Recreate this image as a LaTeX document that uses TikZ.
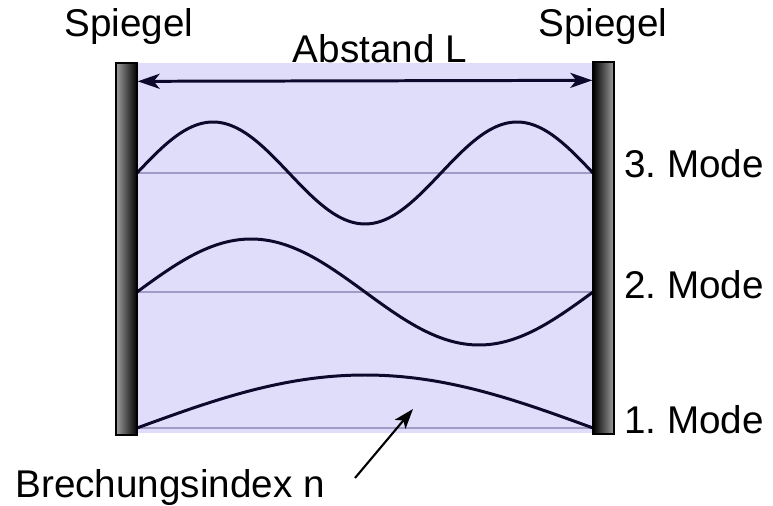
\documentclass[tikz,border=0pt]{standalone}
\usepackage{fontspec}
\setmainfont{Liberation Sans}
\usetikzlibrary{arrows.meta,positioning,calc}
\frenchspacing

\definecolor{medium}{RGB}{224,221,250}
\definecolor{wellen}{RGB}{14,8,44}
\definecolor{achse}{RGB}{160,154,196}

\tikzset{
  spiegelL/.style={draw=black, line width=0.8pt, left color=black!38, right color=black,
    minimum width=0.42cm, minimum height=7.44cm, inner sep=0pt},
  spiegelR/.style={spiegelL, left color=black, right color=black!38},
  beschr/.style={font=\fontsize{22}{26}\selectfont, inner sep=0pt},
  welle/.style={wellen, line width=1.7pt, smooth, samples=80},
  grundlinie/.style={achse, line width=0.8pt}
}

\begin{document}
\begin{tikzpicture}[x=0.02cm, y=-0.02cm]
\useasboundingbox (0,0) rectangle (773,506);

% Medium zwischen den Spiegeln
\fill[medium] (137,63) rectangle (593,433);

% Grundlinien der Moden
\draw[grundlinie] (137,173) -- (593,173);
\draw[grundlinie] (137,292) -- (593,292);
\draw[grundlinie] (137,428) -- (593,428);

% Moden
\draw[welle, domain=0:456, variable=\x]
  plot ({137+\x}, {173-51*sin(\x/456*540)});
\draw[welle, domain=0:456, variable=\x]
  plot ({137+\x}, {292-53*sin(\x/456*360)});
\draw[welle, domain=0:456, variable=\x]
  plot ({137+\x}, {428-53*sin(\x/456*180)});

% Spiegel
\node[spiegelL] (spl) at (126.5,249) {};
\node[spiegelR] (spr) at (603.5,248) {};

% Abstand
\coordinate (al) at ($(spl.north east)+(0,19)$);
\coordinate (ar) at ($(spr.north west)+(0,19)$);
\draw[wellen, line width=1.7pt, {Stealth[length=0.44cm,width=0.3cm,inset=0.12cm]}-{Stealth[length=0.44cm,width=0.3cm,inset=0.12cm]}] (al) -- (ar);

% Beschriftungen
\node[beschr, anchor=base] (tspl) at (129,37) {Spiegel};
\node[beschr, anchor=base] (tspr) at (603,37) {Spiegel};
\node[beschr, anchor=base] (tabst) at (380,63) {Abstand L};
\node[beschr, anchor=base west] (m3) at (624,178) {3. Mode};
\node[beschr, anchor=base west] (m2) at (624,298) {2. Mode};
\node[beschr, anchor=base west] (m1) at (624,433) {1. Mode};
\node[beschr, anchor=base west] (brech) at (15,497) {Brechungsindex n};

% Pfeil zum Medium
\coordinate (nstart) at (355,478);
\coordinate (nziel) at (413,409);
\draw[black, line width=1.2pt, -{Stealth[length=0.4cm,width=0.28cm,inset=0.1cm]}] (nstart) -- (nziel);
\end{tikzpicture}
\end{document}
